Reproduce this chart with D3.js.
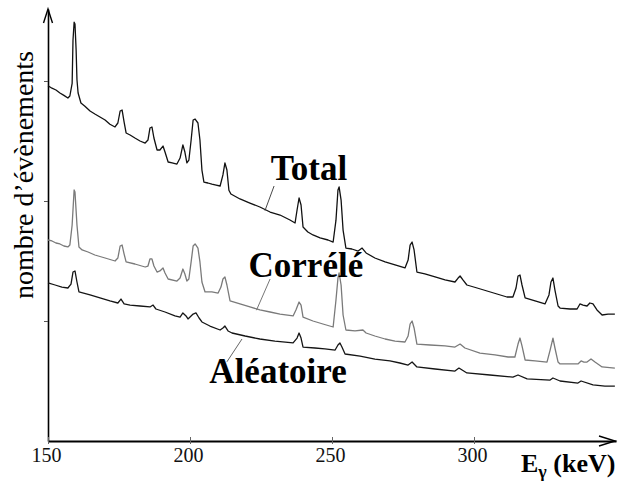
<!DOCTYPE html>
<html><head><meta charset="utf-8">
<script src="https://cdn.jsdelivr.net/npm/d3@7"></script>
<style>
html,body{margin:0;padding:0;background:#fff;}
svg{display:block;}
</style></head>
<body>
<script>
// ---- data (energy keV, counts in arbitrary units) ----
const xTicks = [150, 200, 250, 300];
const yTicks = [100, 200, 300];
const seriesNames = ["Total", "Corrélé", "Aléatoire"];

const total = [[150,296],[151.4,294],[152.8,292.5],[154.2,290],[155.6,288],[157,285.8],[157.7,287.5],[158.5,298],[158.8,334],[159.2,349],[159.5,347.5],[159.9,326],[160.2,301],[160.6,290],[161.6,281.7],[163,279],[164.8,275],[166.5,272.5],[168.3,270],[170.1,267.5],[171.8,264],[173.6,261.7],[174.6,265],[175.4,275],[176.1,275.8],[176.8,265.8],[177.5,256.7],[178.9,255],[180.6,252.5],[182.4,250],[184.2,248.3],[185.2,250.8],[185.9,260.8],[186.6,261.7],[187.3,252.5],[188.4,242.5],[189.4,242.5],[190.5,245.8],[191.2,240.8],[192.3,232.5],[193.7,231.7],[195.4,230.8],[196.5,235.8],[197.5,246.7],[198.2,240.8],[198.9,231.7],[199.6,234],[200.4,250.8],[201.1,267.5],[201.8,268.3],[202.8,265],[203.5,250.8],[204.2,225.8],[204.9,215.8],[206.3,215],[207.7,214],[209.2,213.3],[210.6,212.5],[211.6,221.7],[212.3,231.7],[213,225.8],[213.7,209],[214.4,205.8],[217.6,201.7],[221.1,198.3],[224.6,195],[228.2,190.8],[231.7,188.3],[235.2,184.2],[237,181.7],[237.7,192.5],[238.4,202.5],[239.1,196.7],[239.8,178.3],[241.5,174.2],[243.3,171.7],[245.8,169.2],[248.6,167.5],[250.4,165.8],[251.4,184],[252.1,209.2],[252.5,211.7],[253.2,200.8],[253.9,175.8],[254.9,160.8],[257,160],[259.2,158.3],[260.6,160.8],[262,156.7],[265.1,152.5],[268.7,149.2],[272.2,146.7],[275.7,144.2],[276.8,150.8],[277.5,163.3],[278.2,165.8],[278.9,159.2],[279.9,140.8],[282.7,139.2],[286.3,136.7],[289.8,134.2],[293.3,132.5],[294.4,135.8],[295.1,137.5],[296.1,134.2],[297.5,130],[301.1,127.5],[304.6,125],[308.1,122.5],[311.6,120],[313.7,120],[314.8,127.5],[315.5,137.5],[316.2,138.3],[316.9,130],[318,119.2],[321.5,116.7],[325,114.2],[326.4,121.7],[327.1,132.5],[327.8,135.8],[328.5,125.8],[329.6,112.5],[330.3,110.8],[333.8,110],[336.3,110],[337.3,114.2],[338.4,113.3],[339.8,112.5],[340.8,115],[341.9,114.2],[343.3,109.2],[345.1,105],[347.2,105.8],[349.6,105.8]];

const correle = [[150,167.5],[151.4,166.7],[152.8,165],[154.2,164.2],[155.6,162.5],[157,161.7],[157.7,163.3],[158.5,180],[159.2,209.2],[159.5,207.5],[160.2,180],[160.9,161.7],[162,159.2],[164.1,157.5],[166.5,155],[170.1,152.5],[173.6,150],[174.6,152.5],[175.4,162.5],[176.1,163.3],[176.8,155.8],[177.5,149.2],[180.6,147.5],[184.2,145],[185.2,145.8],[185.9,151.7],[186.6,151.7],[187.3,145.8],[188.4,140.8],[189.4,141.7],[190.5,144.2],[191.2,140],[192.3,135],[195.4,133.3],[196.5,135.8],[197.5,143.3],[198.2,139.2],[198.9,133.3],[199.6,135],[200.4,149.2],[201.1,162.5],[201.8,164.2],[202.8,160.8],[203.5,149.2],[204.2,132.5],[205.3,124.2],[207.7,124.2],[209.9,123.3],[210.9,128.3],[211.6,135],[212.3,136.7],[213,130],[214.1,116.7],[217.6,114.2],[221.1,111.7],[224.6,109.2],[228.2,107.5],[231.7,105.8],[236.3,104.2],[237.3,109.2],[238.4,115.8],[239.1,113.3],[239.8,103.3],[243.3,100],[246.8,97.5],[250.4,95],[251.4,117.5],[252.1,135.8],[252.5,140],[253.2,130],[253.9,105],[254.9,92.5],[258.1,91.7],[260.9,92.5],[262,90],[265.1,87.5],[268.7,85],[272.2,83.3],[275.7,82.5],[276.8,87.5],[277.5,97.5],[278.2,100],[278.9,94.2],[279.9,80.8],[284.5,80],[289.8,79.2],[293.3,78.3],[295.1,80.8],[296.8,77.5],[302.1,73.3],[307.4,71.7],[312,70],[314.4,70],[315.5,80.8],[316.2,85.8],[316.9,79.2],[318,67.5],[321.5,66.7],[325.7,65.8],[326.8,75.8],[327.8,85.8],[328.5,77.5],[329.6,65.8],[330.3,64.2],[333.8,64.2],[336.6,64.2],[337.7,66.7],[338.7,65.8],[339.8,65.8],[341.2,68.3],[342.6,65.8],[345.1,61.7],[349.6,60.8]];

const aleatoire = [[150,131.7],[152.5,130],[154.9,128.3],[157,127.5],[158.1,130.8],[158.8,140.8],[159.5,141.7],[160.2,132.5],[160.9,124.2],[164.8,121.7],[168.3,119.2],[171.8,116.7],[174.6,115],[175.7,118.3],[176.8,114.2],[178.9,113.3],[182.4,112.5],[185.9,111.7],[187,113.3],[188,110],[191.2,107.5],[194.7,104.2],[196.5,103.3],[197.5,106.7],[198.6,104.2],[199.3,101.7],[201.1,105.8],[202.1,106.7],[203.2,102.5],[204.2,99.2],[207,95.8],[210.6,92.5],[211.6,94.2],[212.3,95.8],[213.4,91.7],[214.8,90],[219.4,87.5],[224.6,85],[229.9,83.3],[236.3,81.7],[237.7,85.8],[238.4,90],[239.1,85.8],[239.8,78.3],[244,77.5],[247.5,76.7],[251.1,75.8],[252.1,80],[252.8,81.7],[253.5,78.3],[254.6,72.5],[259.9,70.8],[265.1,68.3],[270.4,66.7],[273.9,65],[276.8,63.3],[278.2,65.8],[279.9,61.7],[286.3,60],[293.3,58.3],[294.7,60.8],[297.5,56.7],[305.6,55],[313.7,53.3],[315.5,55],[318.7,51.7],[326.8,50.8],[327.8,52.5],[330.3,50],[336.6,48.3],[337.7,50],[341.9,46.7],[346.1,45.8],[349.6,45.8]];

// label positions (keV, counts) and leader lines [from, to]
const labelPos = [[241.9,217.5],[240.8,136.7],[231,48.3]];
const leaders = [[[229.6,212.5],[226.4,192]],[[228.2,135],[223.4,109]],[[218.3,85],[213,66]]];

// ---- drawing ----
const W = 618, H = 481;
const svg = d3.select("body").append("svg").attr("width", W).attr("height", H);
const x = d3.scaleLinear().domain([150, 350]).range([48, 616]);
const y = d3.scaleLinear().domain([0, 360]).range([441, 9]);
const serif = "'Liberation Serif','Times New Roman',serif";

// y axis
const ya = svg.append("g").attr("transform", `translate(${x(150)},0)`)
  .call(d3.axisLeft(y).tickValues(yTicks).tickSize(4).tickSizeOuter(0).tickFormat(""));
ya.select(".domain").attr("stroke", "#000").attr("stroke-width", 1.6);
ya.selectAll(".tick line").attr("stroke", "#555").attr("stroke-width", 1);

// x axis
const xa = svg.append("g").attr("transform", `translate(0,${y(0)})`)
  .call(d3.axisBottom(x).tickValues(xTicks).tickSizeInner(-4).tickSizeOuter(0).tickFormat(d3.format("d")));
xa.select(".domain").attr("stroke", "#000").attr("stroke-width", 2);
xa.selectAll(".tick line").attr("stroke", "#666").attr("stroke-width", 1).attr("y1", 3);
xa.selectAll(".tick text").attr("y", 21).attr("dy", 0).attr("dx", -2)
  .attr("font-family", serif).attr("font-size", 20).attr("fill", "#111");

// arrows
const ax0 = x(150), ay0 = y(0), ax1 = x.range()[1], ay1 = y.range()[1];
svg.append("path").attr("d", `M${ax0-4.5},${ay1+14}L${ax0},${ay1}L${ax0+4.5},${ay1+14}`)
  .attr("fill", "none").attr("stroke", "#000").attr("stroke-width", 1.4);
svg.append("path").attr("d", `M${ax1-17},${ay0-5}L${ax1-1},${ay0}L${ax1-17},${ay0+5}`)
  .attr("fill", "none").attr("stroke", "#000").attr("stroke-width", 1.4);

// lines
const line = d3.line().x(d => x(d[0])).y(d => y(d[1]));
const series = [
  {data: total, color: "#111", w: 1.3},
  {data: correle, color: "#7a7a7a", w: 1.3},
  {data: aleatoire, color: "#151515", w: 1.3}
];
series.forEach(s => {
  svg.append("path").datum(s.data).attr("d", line)
    .attr("fill", "none").attr("stroke", s.color).attr("stroke-width", s.w)
    .attr("stroke-linejoin", "round");
});

// leaders
const leaderColors = ["#333", "#666", "#555"];
leaders.forEach((l, i) => {
  svg.append("line").attr("x1", x(l[0][0])).attr("y1", y(l[0][1]))
    .attr("x2", x(l[1][0])).attr("y2", y(l[1][1]))
    .attr("stroke", leaderColors[i]).attr("stroke-width", 0.9);
});

// series labels
seriesNames.forEach((n, i) => {
  svg.append("text").attr("x", x(labelPos[i][0])).attr("y", y(labelPos[i][1]))
    .attr("text-anchor", "middle").attr("font-family", serif).attr("font-weight", "bold")
    .attr("font-size", 35).attr("fill", "#000").text(n);
});

// y axis title
svg.append("text").attr("transform", "translate(33,175) rotate(-90)")
  .attr("text-anchor", "middle").attr("font-family", serif).attr("font-size", 28)
  .attr("fill", "#000").text("nombre d’évènements");

// x axis title
const xt = svg.append("text").attr("x", 521).attr("y", 472)
  .attr("font-family", serif).attr("font-weight", "bold").attr("font-size", 26).attr("fill", "#000");
xt.append("tspan").text("E");
xt.append("tspan").attr("font-size", 18).attr("dy", 6).text("γ");
xt.append("tspan").attr("dy", -6).attr("font-size", 26).text(" (keV)");
</script>
</body></html>
